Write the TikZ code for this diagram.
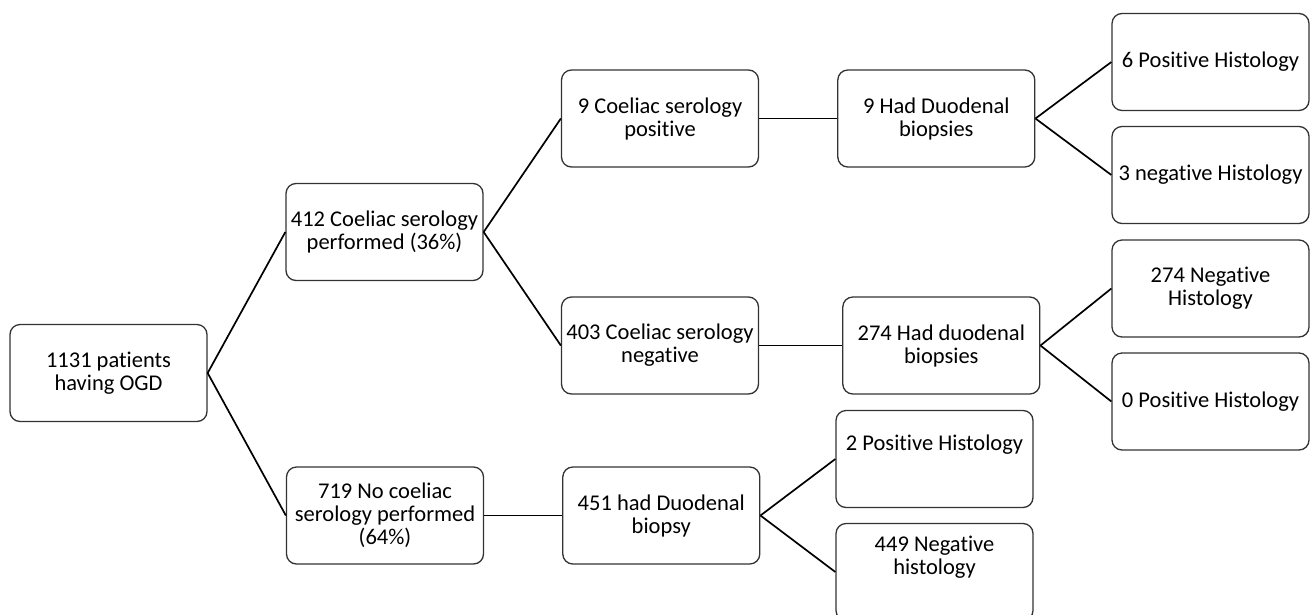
\documentclass[tikz,border=0pt]{standalone}
\usepackage{fontspec}
\setmainfont{Carlito}[Ligatures=NoCommon]
\usetikzlibrary{positioning}

\begin{document}
\begin{tikzpicture}[x=1pt,y=-1pt,font=\fontsize{22.5}{23}\selectfont]
  \tikzstyle{box}=[draw=black!80,line width=1.3pt,rounded corners=10pt,minimum width=197pt,minimum height=97pt,align=center,inner sep=1pt]
  \tikzstyle{link}=[draw=black,line width=1.7pt]

  \useasboundingbox (0,0) rectangle (1312,614);
  \clip (0,0) rectangle (1312,614);

  % first split
  \node[box] (patients) at (108.5,373) {1131 patients\\having OGD};
  \node[box] (serodone) at (384.5,232) {412 Coeliac serology\\performed (36\%)};
  \node[box] (seronone) at (385,515.5) {719 No coeliac\\serology performed\\(64\%)};

  % serology done
  \node[box] (seropos) at (660,118.5) {9 Coeliac serology\\positive};
  \node[box] (posbiop) [right=78pt of seropos] {9 Had Duodenal\\biopsies};
  \node[box] (posA) at (1210.5,62) {6 Positive Histology};
  \node[box] (negA) at (1210.5,175) {3 negative Histology};

  \node[box] (seroneg) at (660,345.5) {403 Coeliac serology\\negative};
  \node[box] (negbiop) [right=83pt of seroneg] {274 Had duodenal\\biopsies};
  \node[box] (negB) at (1210.5,288.5) {274 Negative\\Histology};
  \node[box] (posB) at (1210.5,401.5) {0 Positive Histology};

  % no serology
  \node[box] (nobiop) [right=78pt of seronone] {451 had Duodenal\\biopsy};
  \node[box] (posC) at (934.5,459) {2 Positive Histology\\[9pt]\mbox{}};
  \node[box] (negC) at (934.5,572) {449 Negative\\histology\\[11pt]\mbox{}};

  \path[link] (patients.east) edge (serodone.west) edge (seronone.west);
  \path[link] (serodone.east) edge (seropos.west) edge (seroneg.west);
  \path[link] (seropos.east) edge (posbiop.west);
  \path[link] (posbiop.east) edge (posA.west) edge (negA.west);
  \path[link] (seroneg.east) edge (negbiop.west);
  \path[link] (negbiop.east) edge (negB.west) edge (posB.west);
  \path[link] (seronone.east) edge (nobiop.west);
  \path[link] (nobiop.east) edge (posC.west) edge (negC.west);

\end{tikzpicture}
\end{document}
